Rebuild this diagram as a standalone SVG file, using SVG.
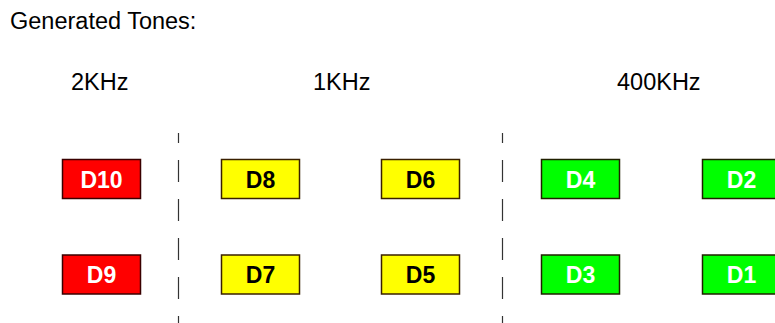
<svg xmlns="http://www.w3.org/2000/svg" width="775" height="323" viewBox="0 0 775 323">
<style>
text{font-family:"Liberation Sans",Arial,sans-serif}
.lbl{font-size:23.5px;fill:#000}
.t{font-size:23px;font-weight:bold;text-anchor:middle}
.r{fill:#ff0000;stroke:#3a0000;stroke-width:1.5}
.y{fill:#ffff00;stroke:#3a2000;stroke-width:1.5}
.g{fill:#00ff00;stroke:#202000;stroke-width:1.5}
.w{fill:#fff}
.k{fill:#000}
.sep{stroke:#333;stroke-width:1.2;stroke-dasharray:22 17;stroke-dashoffset:12;fill:none}
</style>
<rect width="775" height="323" fill="#fff"/>
<text class="lbl" x="10" y="29">Generated Tones:</text>
<text class="lbl" x="71" y="90">2KHz</text>
<text class="lbl" x="313" y="90">1KHz</text>
<text class="lbl" x="617" y="90">400KHz</text>
<g id="connectors">
<line class="sep" x1="178.5" y1="133" x2="178.5" y2="323"/>
<line class="sep" x1="502.5" y1="133" x2="502.5" y2="323"/>
</g>
<g id="D10"><rect class="r" x="62.5" y="159.5" width="78" height="39"/><text class="t w" x="101.5" y="187.5">D10</text></g>
<g id="D9"><rect class="r" x="62.5" y="255" width="78" height="39"/><text class="t w" x="101.5" y="282.5">D9</text></g>
<g id="D8"><rect class="y" x="221.5" y="159.5" width="78" height="39"/><text class="t k" x="260.5" y="187.5">D8</text></g>
<g id="D7"><rect class="y" x="221.5" y="255" width="78" height="39"/><text class="t k" x="260.5" y="282.5">D7</text></g>
<g id="D6"><rect class="y" x="381.5" y="159.5" width="78" height="39"/><text class="t k" x="420.5" y="187.5">D6</text></g>
<g id="D5"><rect class="y" x="381.5" y="255" width="78" height="39"/><text class="t k" x="420.5" y="282.5">D5</text></g>
<g id="D4"><rect class="g" x="541.5" y="159.5" width="78" height="39"/><text class="t w" x="580.5" y="187.5">D4</text></g>
<g id="D3"><rect class="g" x="541.5" y="255" width="78" height="39"/><text class="t w" x="580.5" y="282.5">D3</text></g>
<g id="D2"><rect class="g" x="702.5" y="159.5" width="78" height="39"/><text class="t w" x="741.5" y="187.5">D2</text></g>
<g id="D1"><rect class="g" x="702.5" y="255" width="78" height="39"/><text class="t w" x="741.5" y="282.5">D1</text></g>
</svg>
